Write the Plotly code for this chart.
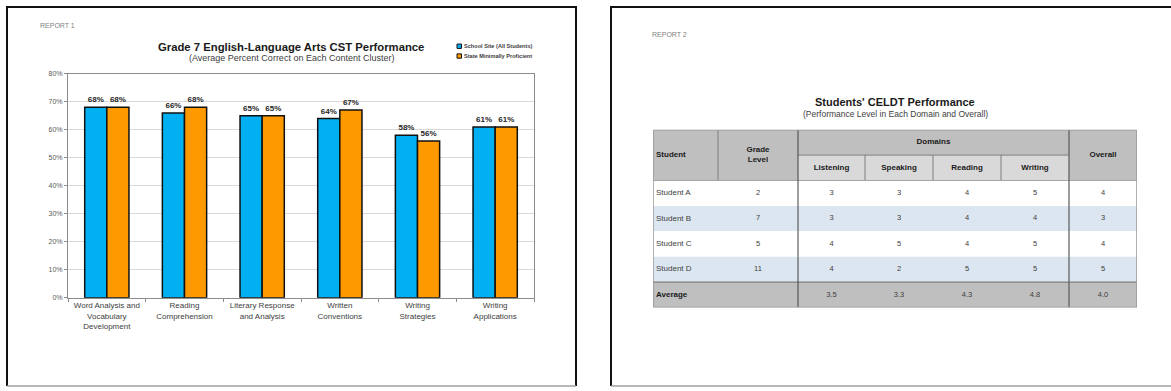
import plotly.graph_objects as go

W, H = 1171, 391

# ---------------- data: Report 1 ----------------
clusters = ["Word Analysis and<br>Vocabulary<br>Development", "Reading<br>Comprehension",
            "Literary Response<br>and Analysis", "Written<br>Conventions",
            "Writing<br>Strategies", "Writing<br>Applications"]
school_site = [68, 66, 65, 64, 58, 61]
state_min_prof = [68, 68, 65, 67, 56, 61]
series_names = ["School Site (All Students)", "State Minimally Proficient"]
y_ticks = [0, 10, 20, 30, 40, 50, 60, 70, 80]
y_tick_labels = ["0%", "10%", "20%", "30%", "40%", "50%", "60%", "70%", "80%"]

# ---------------- data: Report 2 ----------------
students = ["Student A", "Student B", "Student C", "Student D"]
grade_level = [2, 7, 5, 11]
domains = ["Listening", "Speaking", "Reading", "Writing"]
listening = [3, 3, 4, 4]
speaking = [3, 3, 5, 2]
reading = [4, 4, 4, 5]
writing = [5, 4, 5, 5]
overall = [4, 3, 4, 5]
averages = ["3.5", "3.3", "4.3", "4.8", "4.0"]

FONT = "Arial, Liberation Sans, sans-serif"
BLUE = "#00B0F0"
ORANGE = "#FF9900"


def px(x):
    return x / W


def py(y):
    return 1 - y / H


fig = go.Figure()

# ---------------- bar chart ----------------
for name, vals, col in [(series_names[0], school_site, BLUE), (series_names[1], state_min_prof, ORANGE)]:
    fig.add_trace(go.Bar(
        x=clusters, y=vals, name=name,
        marker=dict(color=col, line=dict(color="#111111", width=1.5)),
        text=[f"<b>{v}%</b>" for v in vals], textposition="outside",
        textfont=dict(family=FONT, size=8, color="#262626"),
        constraintext="none", cliponaxis=False, showlegend=False,
        xaxis="x", yaxis="y",
    ))

fig.update_layout(
    xaxis=dict(domain=[px(68), px(534)], showgrid=False, showline=True, mirror=True,
               linecolor="#8C8C8C", linewidth=1, ticks="outside", tickson="boundaries",
               ticklen=3, tickcolor="#8C8C8C",
               tickfont=dict(family=FONT, size=8, color="#404040"), anchor="y"),
    yaxis=dict(domain=[py(299), py(71)], range=[0, 80], tickmode="array",
               tickvals=y_ticks, ticktext=y_tick_labels,
               showgrid=True, gridcolor="#D9D9D9", gridwidth=1,
               showline=True, mirror=True, linecolor="#8C8C8C", linewidth=1,
               ticks="outside", ticklen=3, tickcolor="#8C8C8C", zeroline=False,
               tickfont=dict(family=FONT, size=7, color="#595959"), anchor="x"),
    barmode="group", bargap=0.43, bargroupgap=0.0,
)

# ---------------- table ----------------
col_w = [65, 80, 67, 68, 68, 68, 68]
edges = [0]
for w in col_w:
    edges.append(edges[-1] + w)
n_rows = 7
centers = [(edges[i] + edges[i + 1]) / 2 for i in range(len(col_w))]

fig.update_layout(
    xaxis2=dict(domain=[px(653), px(1137)], range=[0, edges[-1]], visible=False,
                fixedrange=True, anchor="y2"),
    yaxis2=dict(domain=[py(309), py(128)], range=[n_rows, 0], visible=False,
                fixedrange=True, anchor="x2"),
)

shapes = []


def rect(c0, c1, r0, r1, fill):
    shapes.append(dict(type="rect", xref="x2", yref="y2", x0=edges[c0], x1=edges[c1],
                       y0=r0, y1=r1, fillcolor=fill, line=dict(width=0), layer="below"))


def hline(c0, c1, r, color, width):
    shapes.append(dict(type="line", xref="x2", yref="y2", x0=edges[c0], x1=edges[c1],
                       y0=r, y1=r, line=dict(color=color, width=width)))


def vline(c, r0, r1, color, width):
    shapes.append(dict(type="line", xref="x2", yref="y2", x0=edges[c], x1=edges[c],
                       y0=r0, y1=r1, line=dict(color=color, width=width)))


HDR = "#BFBFBF"
SUB = "#D9D9D9"
ALT = "#DCE6F1"
rect(0, 2, 0, 2, HDR)
rect(2, 6, 0, 1, HDR)
rect(2, 6, 1, 2, SUB)
rect(6, 7, 0, 2, HDR)
for i in range(len(students)):
    rect(0, 7, 2 + i, 3 + i, "#FFFFFF" if i % 2 == 0 else ALT)
rect(0, 7, 6, 7, HDR)

# inner lines
vline(1, 0, 2, "#7F7F7F", 1)
for c in (3, 4, 5):
    vline(c, 1, 2, "#7F7F7F", 1)
hline(2, 6, 1, "#7F7F7F", 1)
hline(0, 7, 2, "#A6A6A6", 1)
hline(0, 7, 6, "#7F7F7F", 1.2)
vline(2, 0, 7, "#404040", 1)
vline(6, 0, 7, "#595959", 1.2)
# outer border
shapes.append(dict(type="rect", xref="x2", yref="y2", x0=0, x1=edges[-1], y0=0, y1=n_rows,
                   line=dict(color="#999999", width=1.5), fillcolor="rgba(0,0,0,0)"))

# header text
hx, hy, ht = [], [], []
hx.append(centers[1]); hy.append(1); ht.append("<b>Grade<br>Level</b>")
hx.append((edges[2] + edges[6]) / 2); hy.append(0.5); ht.append("<b>Domains</b>")
for j, d in enumerate(domains):
    hx.append(centers[2 + j]); hy.append(1.5); ht.append(f"<b>{d}</b>")
hx.append(centers[6]); hy.append(1); ht.append("<b>Overall</b>")
fig.add_trace(go.Scatter(x=hx, y=hy, text=ht, mode="text", textposition="middle center",
                         textfont=dict(family=FONT, size=8, color="#1A1A1A"),
                         xaxis="x2", yaxis="y2", showlegend=False, hoverinfo="skip"))

# left-aligned text
lx = [3, 3] + [3] * len(students)
ly = [1, 6.5] + [2.5 + i for i in range(len(students))]
lt = ["<b>Student</b>", "<b>Average</b>"] + students
lc = ["#1A1A1A", "#1A1A1A"] + ["#404040"] * len(students)
fig.add_trace(go.Scatter(x=lx, y=ly, text=lt, mode="text", textposition="middle right",
                         textfont=dict(family=FONT, size=8, color=lc),
                         xaxis="x2", yaxis="y2", showlegend=False, hoverinfo="skip"))

# data values
cols_vals = [grade_level, listening, speaking, reading, writing, overall]
dx, dy, dt = [], [], []
for j, vals in enumerate(cols_vals):
    for i, v in enumerate(vals):
        dx.append(centers[1 + j]); dy.append(2.5 + i); dt.append(str(v))
for j, a in enumerate(averages):
    dx.append(centers[2 + j]); dy.append(6.5); dt.append(a)
fig.add_trace(go.Scatter(x=dx, y=dy, text=dt, mode="text", textposition="middle center",
                         textfont=dict(family=FONT, size=7.5, color="#404040"),
                         xaxis="x2", yaxis="y2", showlegend=False, hoverinfo="skip"))

# ---------------- panel boxes ----------------
def box_path(x0, x1, y0, y1):
    return f"M{px(x0)},{py(y1)} L{px(x0)},{py(y0)} L{px(x1)},{py(y0)} L{px(x1)},{py(y1)}"


shapes.append(dict(type="path", xref="paper", yref="paper", path=box_path(7, 576, 3, 389),
                   line=dict(color="#111111", width=2)))
shapes.append(dict(type="line", xref="paper", yref="paper", x0=px(7), x1=px(576),
                   y0=py(389), y1=py(389), line=dict(color="#A0A0A0", width=1.5)))
shapes.append(dict(type="path", xref="paper", yref="paper", path=box_path(611, 1180, 3, 389),
                   line=dict(color="#111111", width=2)))
shapes.append(dict(type="line", xref="paper", yref="paper", x0=px(611), x1=px(1180),
                   y0=py(389), y1=py(389), line=dict(color="#A0A0A0", width=1.5)))

# legend (manual)
leg_y = [43, 53]
for yy, col in zip(leg_y, [BLUE, ORANGE]):
    shapes.append(dict(type="rect", xref="paper", yref="paper", x0=px(457), x1=px(461.5),
                       y0=py(yy + 2.2), y1=py(yy - 2.2), fillcolor=col,
                       line=dict(color="#111111", width=1)))

annotations = []
for yy, name in zip(leg_y, series_names):
    annotations.append(dict(x=px(462), y=py(yy), xref="paper", yref="paper", text=f"<b>{name}</b>",
                            showarrow=False, xanchor="left", yanchor="middle",
                            font=dict(family=FONT, size=5.6, color="#404040")))

annotations += [
    dict(x=px(38), y=py(22), text="REPORT 1", font=dict(family=FONT, size=7, color="#7F7F7F"),
         xanchor="left", yanchor="middle"),
    dict(x=px(650), y=py(31), text="REPORT 2", font=dict(family=FONT, size=7, color="#7F7F7F"),
         xanchor="left", yanchor="middle"),
    dict(x=px(291), y=py(44), text="<b>Grade 7 English-Language Arts CST Performance</b>",
         font=dict(family=FONT, size=11.3, color="#1A1A1A"), xanchor="center", yanchor="middle"),
    dict(x=px(291), y=py(55), text="(Average Percent Correct on Each Content Cluster)",
         font=dict(family=FONT, size=9, color="#404040"), xanchor="center", yanchor="middle"),
    dict(x=px(895), y=py(100), text="<b>Students' CELDT Performance</b>",
         font=dict(family=FONT, size=11, color="#1A1A1A"), xanchor="center", yanchor="middle"),
    dict(x=px(895), y=py(112), text="(Performance Level in Each Domain and Overall)",
         font=dict(family=FONT, size=8.5, color="#404040"), xanchor="center", yanchor="middle"),
]
for a in annotations:
    a.setdefault("xref", "paper")
    a.setdefault("yref", "paper")
    a["showarrow"] = False

fig.update_layout(
    width=W, height=H, margin=dict(l=0, r=0, t=0, b=0),
    paper_bgcolor="white", plot_bgcolor="rgba(0,0,0,0)",
    shapes=shapes, annotations=annotations, showlegend=False,
    font=dict(family=FONT),
)

fig.write_html("out.html", config={"displayModeBar": False})
